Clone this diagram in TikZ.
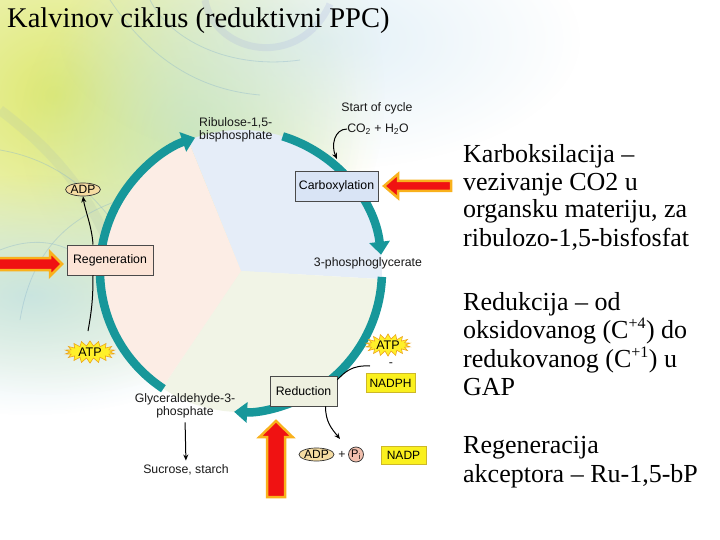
\documentclass[tikz,border=0pt]{standalone}
\usepackage{fontspec}
\setmainfont{Liberation Serif}
\newfontfamily\labfont{Liberation Sans}
\usetikzlibrary{arrows.meta,shapes.geometric,shapes.symbols,fadings}
\definecolor{tealc}{HTML}{17979A}
\definecolor{secblue}{HTML}{E5EDF8}
\definecolor{seccream}{HTML}{F1F4E6}
\definecolor{secpeach}{HTML}{FCEDE5}
\definecolor{boxline}{HTML}{4A4A4A}
\definecolor{carbfill}{HTML}{D9E4F5}
\definecolor{regenfill}{HTML}{FCE4D6}
\definecolor{redfill}{HTML}{EEF0E0}
\definecolor{yel}{HTML}{FAF01E}
\definecolor{yelline}{HTML}{CDB828}
\definecolor{burstyel}{HTML}{FFF02A}
\definecolor{burstline}{HTML}{EDA51C}
\definecolor{adpfill}{HTML}{F5DCA2}
\definecolor{pifill}{HTML}{F2C0AE}
\definecolor{bigred}{HTML}{F01212}
\definecolor{bigorange}{HTML}{F9B11C}
\definecolor{glowy}{HTML}{DCE76A}
\definecolor{glowg}{HTML}{BEE2C2}
\definecolor{glowb}{HTML}{B8DDE6}
\definecolor{glowsky}{HTML}{CFE6F2}
\definecolor{swirlc}{HTML}{8DB6CC}
\definecolor{lavband}{HTML}{9EA6DE}
\definecolor{grayband}{HTML}{B2C4AE}
\tikzfading[name=glow, inner color=transparent!0, outer color=transparent!100]
\begin{document}
\begin{tikzpicture}[x=1pt,y=-1pt,
  lab/.style={font=\labfont\fontsize{12.3}{13}\selectfont, text=black!90, inner sep=0pt},
  procbox/.style={draw=boxline, line width=0.7pt, inner sep=0pt, minimum height=30pt,
    font=\labfont\fontsize{12.3}{13}\selectfont},
  yelbox/.style={fill=yel, draw=yelline, line width=0.8pt, inner sep=0pt, minimum height=19pt,
    font=\labfont\fontsize{12}{13}\selectfont},
  burst/.style={starburst, starburst points=18, starburst point height=5pt, random starburst=0,
    fill=burstyel, draw=burstline, line width=0.6pt, inner sep=0pt,
    font=\labfont\fontsize{12.5}{13}\selectfont},
  oval/.style={ellipse, draw=black!80, line width=0.7pt, inner sep=0pt,
    font=\labfont\fontsize{12}{13}\selectfont},
  cyc/.style={draw=tealc, line width=8.5pt, -{Triangle[width=20pt,length=13pt]}},
  thinarr/.style={draw=black, line width=1pt, -{Stealth[length=6pt,width=5pt]}},
  thinline/.style={draw=black, line width=1pt},
  bigarrow/.style={fill=bigred, draw=bigorange, line width=2.5pt, line join=miter},
  swirl/.style={draw=swirlc, line width=0.8pt, opacity=0.4},
  rtext/.style={anchor=base west, inner sep=0pt, font=\fontsize{26}{28}\selectfont}
]
\useasboundingbox (0,0) rectangle (720,540);
\fill[white] (0,0) rectangle (720,540);

% background decoration
\fill[glowy, path fading=glow, fill opacity=0.95] (55,95) ellipse [x radius=330, y radius=300];
\fill[glowg, path fading=glow, fill opacity=0.7] (190,130) ellipse [x radius=170, y radius=170];
\fill[glowb, path fading=glow, fill opacity=0.7] (30,295) ellipse [x radius=230, y radius=120];
\fill[glowsky, path fading=glow, fill opacity=0.6] (320,40) ellipse [x radius=260, y radius=130];
\draw[line width=7pt, draw=lavband, opacity=0.2] (205,0) .. controls (215,55) and (300,70) .. (330,4);
\draw[line width=10pt, draw=grayband, opacity=0.22] (0,110) .. controls (40,140) and (80,180) .. (105,235);
\draw[swirl] (0,150) .. controls (60,160) and (110,200) .. (140,270);
\draw[swirl] (20,320) .. controls (30,260) and (60,220) .. (120,200);
\draw[swirl] (110,0) .. controls (150,60) and (200,90) .. (260,95);
\draw[swirl] (150,0) .. controls (170,40) and (230,70) .. (300,60);
\draw[swirl] (0,250) .. controls (50,230) and (90,250) .. (120,300);

% title
\node[anchor=base west, inner sep=0pt, font=\fontsize{28.5}{30}\selectfont] (title) at (7,28) {Kalvinov ciklus (reduktivni PPC)};

% pie sectors
\coordinate (c) at (241,271);
\fill[secblue] (c) -- ++(-112:141) arc[start angle=-112, end angle=3.3, radius=141] -- cycle;
\fill[seccream] (c) -- ++(3.3:141) arc[start angle=3.3, end angle=124, radius=141] -- cycle;
\fill[secpeach] (c) -- ++(124:141) arc[start angle=124, end angle=248, radius=141] -- cycle;

% cycle arcs
\draw[cyc] ([shift={(-72.8:141)}]c) arc[start angle=-72.8, end angle=-6.6, radius=141];
\draw[cyc] ([shift={(2.4:141)}]c) arc[start angle=2.4, end angle=92.8, radius=141];
\draw[cyc] ([shift={(123.4:141)}]c) arc[start angle=123.4, end angle=251, radius=141];

% labels
\node[lab, align=left, anchor=west] (ribu) at (199,129.5) {Ribulose-1,5-\\bisphosphate};
\node[lab] (start) at (377,108) {Start of cycle};
\node[lab] (co2) at (378,129) {CO\textsubscript{2} + H\textsubscript{2}O};
\node[lab] (pga) at (368,263) {3-phosphoglycerate};
\node[lab, align=center] (gap) at (185,406) {Glyceraldehyde-3-\\phosphate};
\node[lab] (sucrose) at (186,470) {Sucrose, starch};

% process boxes
\node[procbox, fill=carbfill, minimum width=83pt] (carb) at (336.5,186) {Carboxylation};
\node[procbox, fill=regenfill, minimum width=86pt] (regen) at (110,260) {Regeneration};
\node[procbox, fill=redfill, minimum width=67pt] (red) at (303.5,391) {Reduction};

% cofactors
\node[oval, fill=adpfill, minimum width=32pt, minimum height=13pt] (adp1) at (83,189.5) {ADP};
\node[burst, minimum width=50pt, minimum height=13pt] (atp1) at (90,352) {ATP};
\node[burst, minimum width=45pt, minimum height=11pt] (atp2) at (388,345) {ATP};
\node[lab] (dash) at (391,365) {-};
\node[yelbox, minimum width=49pt] (nadph) at (390.5,383) {NADPH};
\node[oval, fill=adpfill, minimum width=35pt, minimum height=13pt] (adp2) at (316.5,454.5) {ADP};
\node[lab] (plus) at (342,454.5) {+};
\node[circle, draw=black!80, line width=0.7pt, fill=pifill, inner sep=0pt, minimum size=15pt,
  font=\labfont\fontsize{11}{12}\selectfont] (pi) at (356,454.5) {P\textsubscript{i}};
\node[yelbox, minimum width=45pt, minimum height=18pt] (nadp) at (403.5,455) {NADP};

% thin connectors
\coordinate (co2tip) at (337,159);
\draw[thinarr] (co2.west) .. controls +(-13,0) and +(-6,-13) .. (co2tip);
\draw[thinarr] ([xshift=-17pt]regen.north) .. controls +(-1,-18) and +(2,14) .. (adp1.south);
\coordinate (atp1top) at (88,331);
\draw[thinline] (atp1top) .. controls +(4,-22) and +(0,22) .. ([xshift=-17pt]regen.south);
\coordinate (redin) at (370,366);
\draw[thinline] (redin) .. controls +(-18,-1) and +(8,-8) .. ([yshift=-4pt]red.north east);
\coordinate (redout) at (340,439);
\draw[thinarr] ([xshift=22pt]red.south) .. controls +(0,16) and +(-8,-10) .. (redout);
\draw[thinarr, shorten <=4pt, shorten >=4pt] (gap.south) -- (sucrose.north);

% big red arrows
\draw[bigarrow] (384,186) -- (398,174) -- (398,181) -- (451,181) -- (451,191) -- (398,191) -- (398,198) -- cycle;
\draw[bigarrow] (62,264) -- (50,252) -- (50,258) -- (-5,258) -- (-5,270) -- (50,270) -- (50,276) -- cycle;
\draw[bigarrow] (276,421) -- (259.5,437) -- (267,437) -- (267,497) -- (285,497) -- (285,437) -- (292.5,437) -- cycle;

% right-hand text
\node[rtext] (t1) at (463,163) {Karboksilacija –};
\node[rtext] (t2) at (463,191) {vezivanje CO2 u};
\node[rtext] (t3) at (463,218) {organsku materiju, za};
\node[rtext] (t4) at (463,246) {ribulozo-1,5-bisfosfat};
\node[rtext] (t5) at (463,310) {Redukcija – od};
\node[rtext] (t6) at (463,338) {oksidovanog (C\textsuperscript{\fontsize{16}{16}\selectfont+4}) do};
\node[rtext] (t7) at (463,367) {redukovanog (C\textsuperscript{\fontsize{16}{16}\selectfont+1}) u};
\node[rtext] (t8) at (463,395) {GAP};
\node[rtext] (t9) at (463,453) {Regeneracija};
\node[rtext] (t10) at (463,482) {akceptora – Ru-1,5-bP};
\end{tikzpicture}
\end{document}
